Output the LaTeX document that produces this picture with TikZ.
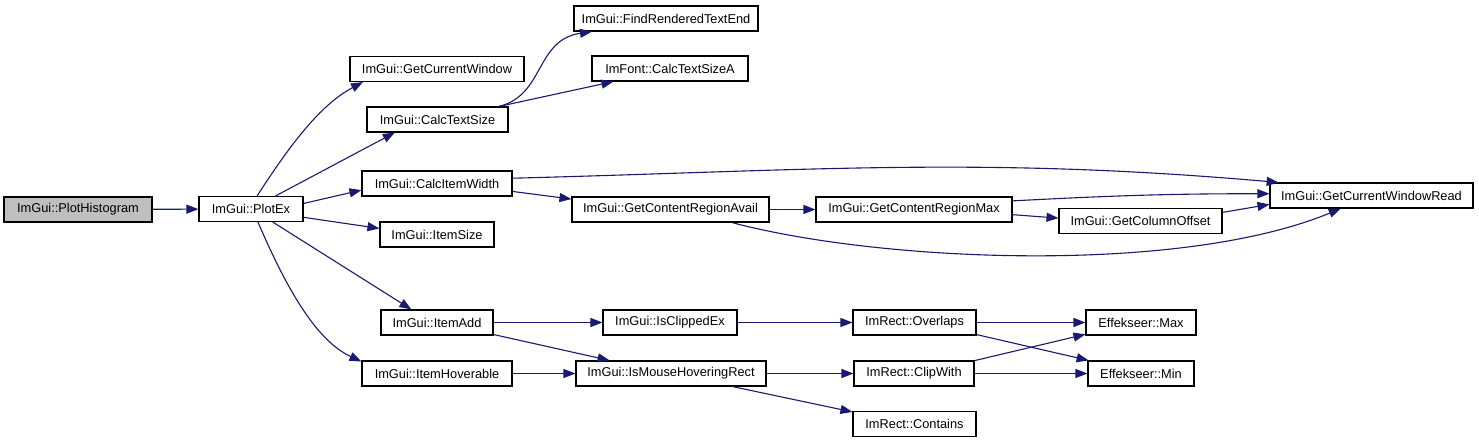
\documentclass[tikz,border=0pt]{standalone}
\usepackage{fontspec}
\setmainfont{Liberation Sans}
\usepackage{xcolor}
\usetikzlibrary{arrows.meta}
\definecolor{edgeblue}{HTML}{191970}
\definecolor{rootgray}{HTML}{BFBFBF}
\definecolor{boxline}{HTML}{000000}
\tikzset{
  fnbox/.style={draw=boxline,fill=white,line width=1.1bp,inner sep=0pt,
                minimum height=25bp,font=\fontsize{12.8bp}{15bp}\selectfont},
  rootbox/.style={fnbox,fill=rootgray},
  callarr/.style={-{Triangle[length=12bp,width=9bp]},line width=1.1bp,
                  draw=edgeblue}
}

\begin{document}
\begin{tikzpicture}[x=1bp,y=-1bp]
    \path[use as bounding box] (0,0) rectangle (1479,443);

    % left part
    \node[rootbox,minimum width=148bp] (plothist) at (78,209.5) {ImGui::PlotHistogram};
    \node[fnbox,minimum width=104bp] (plotex) at (251,209) {ImGui::PlotEx};
    \draw[callarr] (plothist) -- (plotex);

    \node[fnbox,minimum width=174bp] (curwin) at (437,69) {ImGui::GetCurrentWindow};
    \node[fnbox,minimum width=141bp] (calctext) at (437.5,119.5) {ImGui::CalcTextSize};
    \node[fnbox,minimum width=150bp] (calcitem) at (437,183.5) {ImGui::CalcItemWidth};
    \node[fnbox,minimum width=114bp] (itemsize) at (437,234.5) {ImGui::ItemSize};
    \node[fnbox,minimum width=112bp] (itemadd) at (437,322.5) {ImGui::ItemAdd};
    \node[fnbox,minimum width=150bp] (hoverable) at (437,373.5) {ImGui::ItemHoverable};
    \draw[callarr] (plotex.65) .. controls (290,145) and (320,105) .. (curwin.190);
    \draw[callarr] (plotex.28) -- (calctext.197);
    \draw[callarr] (plotex.6) -- (calcitem.185);
    \draw[callarr] (plotex.-9) -- (itemsize.174);
    \draw[callarr] (plotex.-31) -- (itemadd.153);
    \draw[callarr] (plotex.-62) .. controls (285,285) and (315,340) .. (hoverable.171);

    % middle part
    \node[fnbox,minimum width=184bp] (findend) at (666,18.5) {ImGui::FindRenderedTextEnd};
    \node[fnbox,minimum width=156bp] (calcsizea) at (670,68.5) {ImFont::CalcTextSizeA};
    \node[fnbox,minimum width=197bp] (avail) at (670.5,209.5) {ImGui::GetContentRegionAvail};
    \node[fnbox,minimum width=134bp] (clipped) at (670,322.5) {ImGui::IsClippedEx};
    \node[fnbox,minimum width=190bp] (mousehover) at (671,373.5) {ImGui::IsMouseHoveringRect};
    \draw[callarr] (calctext.12) .. controls (545,95) and (535,40) .. (findend.190);
    \draw[callarr] (calctext.12) -- (calcsizea.193);
    \draw[callarr] (calcitem.-6) -- (avail.174);
    \draw[callarr] (itemadd) -- (clipped);
    \draw[callarr] (itemadd.-12) -- (mousehover.168);
    \draw[callarr] (hoverable) -- (mousehover);

    % right part
    \node[fnbox,minimum width=196bp] (regmax) at (914,209.5) {ImGui::GetContentRegionMax};
    \node[fnbox,minimum width=163bp] (coloff) at (1140.5,221) {ImGui::GetColumnOffset};
    \node[fnbox,minimum width=203bp] (winread) at (1371.5,195.5) {ImGui::GetCurrentWindowRead};
    \node[fnbox,minimum width=123bp] (overlaps) at (914.5,322.5) {ImRect::Overlaps};
    \node[fnbox,minimum width=120bp] (clipwith) at (914,373.5) {ImRect::ClipWith};
    \node[fnbox,minimum width=123bp] (contains) at (914.5,424) {ImRect::Contains};
    \node[fnbox,minimum width=110bp] (emax) at (1141,322.5) {Effekseer::Max};
    \node[fnbox,minimum width=106bp] (emin) at (1141,373.5) {Effekseer::Min};
    \draw[callarr] (calcitem.4) to[out=1.5,in=175] (winread.172);
    \draw[callarr] (avail) -- (regmax);
    \draw[callarr] (avail.-12) .. controls (880,262) and (1180,275) .. (winread.203);
    \draw[callarr] (regmax.5) to[out=3,in=180] (winread.179);
    \draw[callarr] (regmax.-3) -- (coloff.178);
    \draw[callarr] (coloff.6) -- (winread.185);
    \draw[callarr] (clipped) -- (overlaps);
    \draw[callarr] (mousehover) -- (clipwith);
    \draw[callarr] (mousehover.-12) -- (contains.169);
    \draw[callarr] (overlaps) -- (emax);
    \draw[callarr] (overlaps.-11) -- (emin.166);
    \draw[callarr] (clipwith.12) -- (emax.192);
    \draw[callarr] (clipwith) -- (emin);
  \end{tikzpicture}
\end{document}
